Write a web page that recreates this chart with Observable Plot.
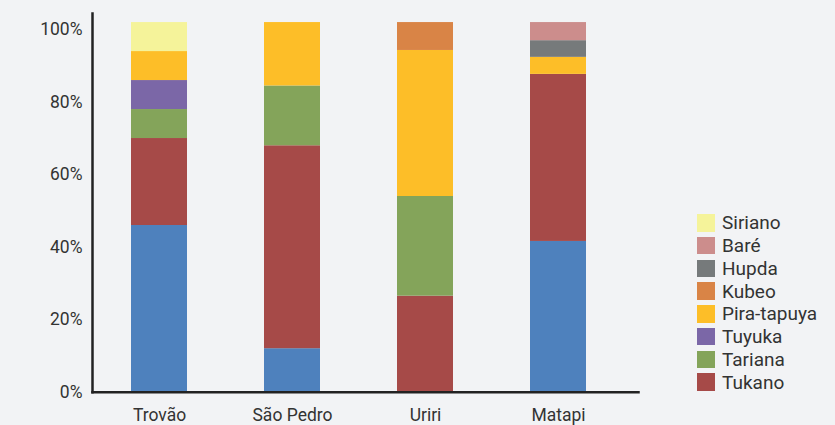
<!DOCTYPE html>
<html>
<head>
<meta charset="utf-8">
<script src="https://cdn.jsdelivr.net/npm/d3@7"></script>
<script src="https://cdn.jsdelivr.net/npm/@observablehq/plot@0.6"></script>
<style>
  html, body { margin: 0; padding: 0; background: #f2f3f5; }
  #wrap { position: relative; width: 835px; height: 425px; font-family: Roboto, "DejaVu Sans", sans-serif; }
  #legend { position: absolute; left: 697px; top: 211.5px; }
  .row { display: flex; align-items: center; height: 22.76px; }
  .sw { width: 17.5px; height: 17.5px; margin-right: 7.5px; }
  .lab { font-size: 19px; color: #333; line-height: 1; }
</style>
</head>
<body>
<div id="wrap"></div>
<script>
const villages = ["Trovão", "São Pedro", "Uriri", "Matapi"];
const seriesNames = ["Desana", "Tukano", "Tariana", "Tuyuka", "Pira-tapuya", "Kubeo", "Hupda", "Baré", "Siriano"];
const seriesColors = ["#4e81bd", "#a64a48", "#84a45a", "#7b67a7", "#fdbe28", "#d98446", "#767a7b", "#cc8d8c", "#f5f39a"];
const desana     = [46, 12, 0, 41.6];
const tukano     = [24, 56, 26.5, 46.1];
const tariana    = [8, 16.5, 27.5, 0];
const tuyuka     = [8, 0, 0, 0];
const piraTapuya = [8, 17.5, 40.3, 4.7];
const kubeo      = [0, 0, 7.7, 0];
const hupda      = [0, 0, 0, 4.6];
const bare       = [0, 0, 0, 5];
const siriano    = [8, 0, 0, 0];
const legendNames = ["Siriano", "Baré", "Hupda", "Kubeo", "Pira-tapuya", "Tuyuka", "Tariana", "Tukano"];
const yTicks = [0, 20, 40, 60, 80, 100];

const seriesValues = [desana, tukano, tariana, tuyuka, piraTapuya, kubeo, hupda, bare, siriano];
const rows = [];
seriesNames.forEach((s, si) => {
  villages.forEach((v, vi) => {
    rows.push({village: v, series: s, value: seriesValues[si][vi]});
  });
});

const chart = Plot.plot({
  width: 835,
  height: 425,
  marginLeft: 92,
  marginRight: 197,
  marginTop: 13,
  marginBottom: 33.3,
  style: {background: "transparent", fontFamily: "Roboto, 'DejaVu Sans', sans-serif", fontSize: "17.5px", color: "#333"},
  x: {domain: villages, paddingInner: 0.58, paddingOuter: 0.3365, align: 0.423, label: null},
  y: {domain: [0, 104.5], label: null},
  color: {domain: seriesNames, range: seriesColors},
  marks: [
    Plot.barY(rows, {x: "village", y: "value", fill: "series", order: seriesNames, inset: 0}),
    Plot.axisY({ticks: yTicks, tickSize: 0, tickPadding: 10, tickFormat: d => d + "%", label: null, fill: "#333", fontSize: 17.5}),
    Plot.axisX({tickSize: 0, tickPadding: 16, label: null, fill: "#333", fontSize: 17.5}),
    Plot.frame({anchor: "left", stroke: "#222", strokeWidth: 2.5}),
    Plot.frame({anchor: "bottom", stroke: "#222", strokeWidth: 2.5})
  ]
});

const wrap = document.getElementById("wrap");
wrap.appendChild(chart);
const leg = document.createElement("div");
leg.id = "legend";
legendNames.forEach(n => {
  const r = document.createElement("div");
  r.className = "row";
  const sw = document.createElement("div");
  sw.className = "sw";
  sw.style.background = seriesColors[seriesNames.indexOf(n)];
  const lab = document.createElement("span");
  lab.className = "lab";
  lab.textContent = n;
  r.appendChild(sw);
  r.appendChild(lab);
  leg.appendChild(r);
});
wrap.appendChild(leg);
</script>
</body>
</html>
